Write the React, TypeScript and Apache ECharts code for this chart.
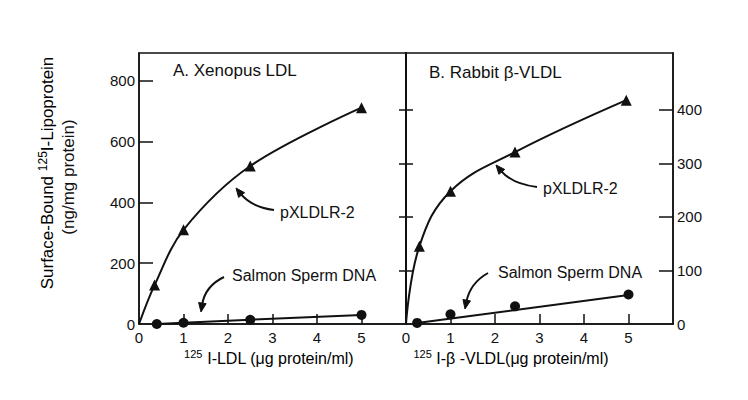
import React, { useEffect, useRef } from "react";
import * as echarts from "echarts";

// ---- data ----
const xTickLabels = [0, 1, 2, 3, 4, 5];
const leftYTickLabels = [0, 200, 400, 600, 800];
const rightYTickLabels = [0, 100, 200, 300, 400];

// Panel A: Xenopus LDL (left axis, ng/mg protein)
const xenopusPX: number[][] = [
  [0, 0],
  [0.35, 128],
  [1, 310],
  [2.5, 520],
  [5, 712],
];
const xenopusSalmon: number[][] = [
  [0.4, 0],
  [1, 4],
  [2.5, 14],
  [5, 30],
];

// Panel B: Rabbit beta-VLDL (right axis, ng/mg protein)
const rabbitPX: number[][] = [
  [0, 0],
  [0.3, 145],
  [1, 248],
  [2.45, 321],
  [4.95, 418],
];
const rabbitSalmon: number[][] = [
  [0.25, 2],
  [1, 18],
  [2.45, 33],
  [5, 55],
];
const rabbitSalmonFit: number[][] = [
  [0.25, 2],
  [5, 54],
];

const FONT = '"Liberation Sans", Arial, Helvetica, sans-serif';
const INK = "#111";

function arrow(sx: number, sy: number, cx: number, cy: number, ex: number, ey: number) {
  const dx = ex - cx;
  const dy = ey - cy;
  const len = Math.sqrt(dx * dx + dy * dy) || 1;
  const ux = dx / len;
  const uy = dy / len;
  const hl = 9;
  const hw = 3.8;
  const bx = ex - ux * hl;
  const by = ey - uy * hl;
  return [
    {
      type: "bezierCurve",
      shape: { x1: sx, y1: sy, cpx1: cx, cpy1: cy, x2: bx + ux * 2, y2: by + uy * 2 },
      style: { stroke: INK, lineWidth: 2, fill: "none" },
    },
    {
      type: "polygon",
      shape: {
        points: [
          [ex, ey],
          [bx - uy * hw, by + ux * hw],
          [bx + uy * hw, by - ux * hw],
        ],
      },
      style: { fill: INK, stroke: INK, lineWidth: 1 },
    },
  ];
}

export default function App() {
  const ref = useRef<HTMLDivElement>(null);

  useEffect(() => {
    document.body.style.margin = "0";
    if (!ref.current) return;
    const chart = echarts.init(ref.current, undefined, { renderer: "svg" });

    const axisLine = { show: true, lineStyle: { color: INK, width: 1.5 } };
    const labelStyle = { color: INK, fontSize: 15, fontFamily: FONT };

    const xAxisBase = (gridIndex: number) => ({
      type: "value",
      gridIndex,
      min: 0,
      max: 6,
      interval: 1,
      axisLine,
      splitLine: { show: false },
      axisTick: {
        show: true,
        inside: true,
        length: 10,
        lineStyle: { color: INK, width: 1.5 },
        customValues: [1, 2, 3, 4, 5],
      },
      axisLabel: { ...labelStyle, margin: 6, customValues: xTickLabels },
    });

    const rich = {
      a: { fontSize: 16, fontFamily: FONT, color: INK, lineHeight: 20 },
      s: { fontSize: 11, fontFamily: FONT, color: INK, lineHeight: 12, verticalAlign: "top" },
      y: { fontSize: 17, fontFamily: FONT, color: INK, lineHeight: 20 },
      ys: { fontSize: 12, fontFamily: FONT, color: INK, lineHeight: 12, verticalAlign: "top" },
    };

    const textEl = (x: number, y: number, text: string, size: number) => ({
      type: "text",
      x,
      y,
      style: {
        text,
        fill: INK,
        font: `${size}px ${FONT}`,
        verticalAlign: "middle",
        align: "left",
      },
    });

    const option = {
      animation: false,
      backgroundColor: "#fff",
      grid: [
        {
          left: 139,
          top: 53,
          width: 267,
          height: 271,
          show: true,
          borderColor: INK,
          borderWidth: 1.5,
          backgroundColor: "transparent",
        },
        {
          left: 406,
          top: 53,
          width: 267,
          height: 271,
          show: true,
          borderColor: INK,
          borderWidth: 1.5,
          backgroundColor: "transparent",
        },
      ],
      xAxis: [xAxisBase(0), xAxisBase(1)],
      yAxis: [
        {
          type: "value",
          gridIndex: 0,
          position: "left",
          min: 0,
          max: 892,
          interval: 200,
          axisLine,
          splitLine: { show: false },
          axisTick: {
            show: true,
            inside: true,
            length: 14,
            lineStyle: { color: INK, width: 1.5 },
            customValues: [200, 400, 600, 800],
          },
          axisLabel: { ...labelStyle, margin: 4, customValues: leftYTickLabels },
        },
        {
          type: "value",
          gridIndex: 0,
          position: "right",
          min: 0,
          max: 506,
          interval: 100,
          axisLine,
          splitLine: { show: false },
          axisTick: {
            show: true,
            inside: true,
            length: 7,
            lineStyle: { color: INK, width: 1.5 },
            customValues: [100, 200, 300, 400],
          },
          axisLabel: { show: false },
        },
        {
          type: "value",
          gridIndex: 1,
          position: "left",
          min: 0,
          max: 506,
          interval: 100,
          axisLine,
          splitLine: { show: false },
          axisTick: {
            show: true,
            inside: true,
            length: 7,
            lineStyle: { color: INK, width: 1.5 },
            customValues: [100, 200, 300, 400],
          },
          axisLabel: { show: false },
        },
        {
          type: "value",
          gridIndex: 1,
          position: "right",
          min: 0,
          max: 506,
          interval: 100,
          axisLine,
          splitLine: { show: false },
          axisTick: {
            show: true,
            inside: true,
            length: 14,
            lineStyle: { color: INK, width: 1.5 },
            customValues: [100, 200, 300, 400],
          },
          axisLabel: { ...labelStyle, margin: 4, customValues: rightYTickLabels },
        },
      ],
      series: [
        {
          name: "pXLDLR-2 (Xenopus LDL)",
          type: "line",
          xAxisIndex: 0,
          yAxisIndex: 0,
          smooth: 0.35,
          data: xenopusPX.map((p, i) => (i === 0 ? { value: p, symbol: "none" } : p)),
          symbol: "triangle",
          symbolSize: 11,
          itemStyle: { color: INK, opacity: 1 },
          lineStyle: { color: INK, width: 2 },
        },
        {
          name: "Salmon Sperm DNA (Xenopus LDL)",
          type: "line",
          xAxisIndex: 0,
          yAxisIndex: 0,
          data: xenopusSalmon,
          symbol: "circle",
          symbolSize: 10,
          itemStyle: { color: INK, opacity: 1 },
          lineStyle: { color: INK, width: 2 },
        },
        {
          name: "pXLDLR-2 (Rabbit β-VLDL)",
          type: "line",
          xAxisIndex: 1,
          yAxisIndex: 3,
          smooth: 0.4,
          data: rabbitPX.map((p, i) => (i === 0 ? { value: p, symbol: "none" } : p)),
          symbol: "triangle",
          symbolSize: 11,
          itemStyle: { color: INK, opacity: 1 },
          lineStyle: { color: INK, width: 2 },
        },
        {
          name: "Salmon Sperm DNA fit (Rabbit β-VLDL)",
          type: "line",
          xAxisIndex: 1,
          yAxisIndex: 3,
          data: rabbitSalmonFit,
          symbol: "none",
          lineStyle: { color: INK, width: 2 },
        },
        {
          name: "Salmon Sperm DNA (Rabbit β-VLDL)",
          type: "scatter",
          xAxisIndex: 1,
          yAxisIndex: 3,
          data: rabbitSalmon,
          symbol: "circle",
          symbolSize: 10,
          itemStyle: { color: INK, opacity: 1 },
        },
      ],
      graphic: [
        textEl(173, 70, "A. Xenopus LDL", 17),
        textEl(429, 72, "B. Rabbit β-VLDL", 17),
        textEl(280, 212, "pXLDLR-2", 16),
        textEl(232, 275, "Salmon Sperm DNA", 16),
        textEl(543, 188, "pXLDLR-2", 16),
        textEl(498, 272, "Salmon Sperm DNA", 16),
        ...arrow(274, 210, 251, 207, 236, 188),
        ...arrow(224, 277, 205, 286, 201, 312),
        ...arrow(537, 187, 512, 184, 496, 165),
        ...arrow(488, 273, 470, 283, 465, 309),
        {
          type: "text",
          x: 269,
          y: 358,
          style: {
            text: "{s|125}{a| I-LDL (μg protein/ml)}",
            rich,
            align: "center",
            verticalAlign: "middle",
          },
        },
        {
          type: "text",
          x: 511,
          y: 358,
          style: {
            text: "{s|125}{a| I-β -VLDL(μg protein/ml)}",
            rich,
            align: "center",
            verticalAlign: "middle",
          },
        },
        {
          type: "text",
          x: 47,
          y: 173,
          rotation: Math.PI / 2,
          style: {
            text: "{y|Surface-Bound }{ys|125}{y|I-Lipoprotein}",
            rich,
            align: "center",
            verticalAlign: "middle",
          },
        },
        {
          type: "text",
          x: 68,
          y: 177,
          rotation: Math.PI / 2,
          style: {
            text: "(ng/mg protein)",
            fill: INK,
            font: `17px ${FONT}`,
            align: "center",
            verticalAlign: "middle",
          },
        },
      ],
    };

    chart.setOption(option as any);
    return () => chart.dispose();
  }, []);

  return <div ref={ref} style={{ width: 748, height: 400 }} />;
}
